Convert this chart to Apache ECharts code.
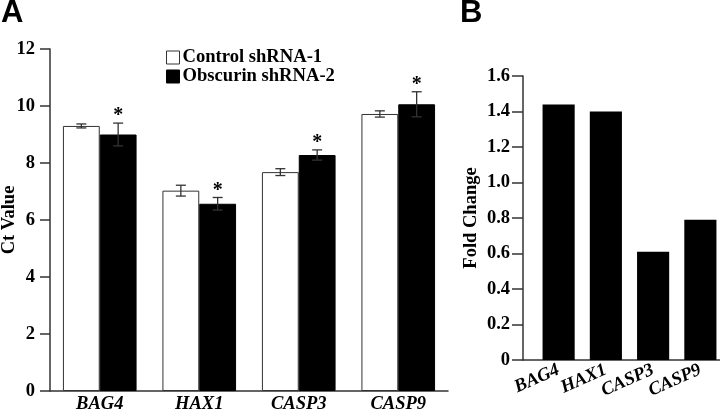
<!DOCTYPE html>
<html>
<head>
<meta charset="utf-8">
<script src="https://cdn.jsdelivr.net/npm/echarts@6/dist/echarts.min.js"></script>
<style>html,body{margin:0;padding:0;background:#fff}#c{width:720px;height:413px}</style>
</head>
<body>
<div id="c"></div>
<script>
// ---- Data ----
var genes = ['BAG4', 'HAX1', 'CASP3', 'CASP9'];
var seriesNames = ['Control shRNA-1', 'Obscurin shRNA-2'];
var controlMean = [9.30, 7.03, 7.68, 9.72];
var controlErr = [0.07, 0.19, 0.12, 0.11];
var obscurinMean = [9.00, 6.57, 8.28, 10.06];
var obscurinErr = [0.40, 0.22, 0.18, 0.44];
var obscurinSignificant = [true, true, true, true];
var foldChange = [1.44, 1.40, 0.61, 0.79];
var ctTicks = [0, 2, 4, 6, 8, 10, 12];
var foldTicks = [0, 0.2, 0.4, 0.6, 0.8, 1.0, 1.2, 1.4, 1.6];

var SERIF = "'Liberation Serif','Times New Roman',serif";
var AXIS = '#333';
var GAP_A = 0.26;

function errRender(side, sig) {
  return function (params, api) {
    var i = api.value(0), m = api.value(1), e = api.value(2);
    var band = api.size([1, 0])[0];
    var barW = band * (1 - GAP_A) / 2;
    var c = api.coord([i, m]);
    var x = c[0] + side * barW / 2;
    var yt = api.coord([i, m + e])[1];
    var yb = api.coord([i, m - e])[1];
    var cap = 5;
    var st = {stroke: AXIS, lineWidth: 1.3};
    var children = [
      {type: 'line', shape: {x1: x, y1: yt, x2: x, y2: yb}, style: st},
      {type: 'line', shape: {x1: x - cap, y1: yt, x2: x + cap, y2: yt}, style: st},
      {type: 'line', shape: {x1: x - cap, y1: yb, x2: x + cap, y2: yb}, style: st}
    ];
    if (sig && sig[params.dataIndex]) {
      children.push({type: 'text', style: {text: '*', x: x, y: yt - 7, align: 'center', verticalAlign: 'middle',
        font: 'bold 20px ' + SERIF, fill: '#000'}});
    }
    return {type: 'group', children: children};
  };
}

var chart = echarts.init(document.getElementById('c'), null, {renderer: 'canvas'});
var labelStyle = {fontFamily: SERIF, fontWeight: 'bold', fontSize: 18.5, color: '#000'};

chart.setOption({
  animation: false,
  backgroundColor: '#fff',
  title: [
    {text: 'A', left: 1, top: -2, padding: 0, textStyle: {fontFamily: "'Liberation Sans',Arial,sans-serif", fontWeight: 'bold', fontSize: 31, color: '#000'}},
    {text: 'B', left: 460, top: -2, padding: 0, textStyle: {fontFamily: "'Liberation Sans',Arial,sans-serif", fontWeight: 'bold', fontSize: 31, color: '#000'}}
  ],
  legend: {
    data: [
      {name: seriesNames[0], icon: 'rect', itemStyle: {color: '#fff', borderColor: '#333', borderWidth: 1}},
      {name: seriesNames[1], icon: 'rect', itemStyle: {color: '#000', borderColor: '#000', borderWidth: 1}}
    ],
    orient: 'vertical', left: 166, top: 48, padding: 0,
    itemWidth: 13, itemHeight: 13, itemGap: 0,
    textStyle: {fontFamily: SERIF, fontWeight: 'bold', fontSize: 18.6, color: '#000', lineHeight: 17, padding: [0, 0, 0, -2]}
  },
  grid: [
    {left: 50, right: 272, top: 49, bottom: 22, containLabel: false, outerBoundsMode: 'none'},
    {left: 535, right: -4, top: 76, bottom: 53, containLabel: false, outerBoundsMode: 'none'},
    {left: 523, right: 0, top: 76, bottom: 53, containLabel: false, outerBoundsMode: 'none'}
  ],
  xAxis: [
    {gridIndex: 0, type: 'category', data: genes,
      axisLine: {lineStyle: {color: AXIS, width: 1.5}}, axisTick: {show: false},
      axisLabel: Object.assign({}, labelStyle, {fontStyle: 'italic', margin: 4, interval: 0})},
    {gridIndex: 1, type: 'category', data: genes,
      axisLine: {show: false}, axisTick: {show: false},
      axisLabel: Object.assign({}, labelStyle, {fontStyle: 'italic', margin: 9, rotate: 24, interval: 0, hideOverlap: false})},
    {gridIndex: 2, type: 'category', data: [''],
      axisLine: {lineStyle: {color: AXIS, width: 1.5}}, axisTick: {show: false}, axisLabel: {show: false}}
  ],
  yAxis: [
    {gridIndex: 0, type: 'value', min: ctTicks[0], max: ctTicks[ctTicks.length - 1], interval: 2,
      name: 'Ct Value', nameLocation: 'middle', nameGap: 31, nameRotate: 90, nameMoveOverlap: false,
      nameTextStyle: labelStyle,
      axisLine: {show: true, lineStyle: {color: AXIS, width: 1.5}},
      axisTick: {show: true, length: 10, lineStyle: {color: AXIS, width: 1.5}},
      splitLine: {show: false},
      axisLabel: Object.assign({}, labelStyle, {margin: 15})},
    {gridIndex: 1, type: 'value', min: foldTicks[0], max: foldTicks[foldTicks.length - 1], interval: 0.2, offset: 12,
      name: 'Fold Change', nameLocation: 'middle', nameGap: 42, nameRotate: 90, nameMoveOverlap: false,
      nameTextStyle: labelStyle,
      axisLine: {show: true, lineStyle: {color: AXIS, width: 1.5}},
      axisTick: {show: true, length: 11, lineStyle: {color: AXIS, width: 1.5}},
      splitLine: {show: false},
      axisLabel: Object.assign({}, labelStyle, {margin: 13, formatter: function (v) { return v === 0 ? '0' : v.toFixed(1); }})},
    {gridIndex: 2, type: 'value', min: 0, max: 1.6, show: false}
  ],
  series: [
    {name: seriesNames[0], type: 'bar', xAxisIndex: 0, yAxisIndex: 0, data: controlMean,
      barGap: '0%', barCategoryGap: (GAP_A * 100) + '%',
      itemStyle: {color: '#fff', borderColor: '#333', borderWidth: 1}},
    {name: seriesNames[1], type: 'bar', xAxisIndex: 0, yAxisIndex: 0, data: obscurinMean,
      barGap: '0%', barCategoryGap: (GAP_A * 100) + '%',
      itemStyle: {color: '#000', borderColor: '#000', borderWidth: 1}},
    {type: 'custom', xAxisIndex: 0, yAxisIndex: 0, z: 5,
      data: controlMean.map(function (m, i) { return [i, m, controlErr[i]]; }),
      renderItem: errRender(-1, null)},
    {type: 'custom', xAxisIndex: 0, yAxisIndex: 0, z: 5,
      data: obscurinMean.map(function (m, i) { return [i, m, obscurinErr[i]]; }),
      renderItem: errRender(1, obscurinSignificant)},
    {name: 'Fold Change', type: 'bar', xAxisIndex: 1, yAxisIndex: 1, data: foldChange,
      barCategoryGap: '32%', itemStyle: {color: '#000'}}
  ]
});
</script>
</body>
</html>
